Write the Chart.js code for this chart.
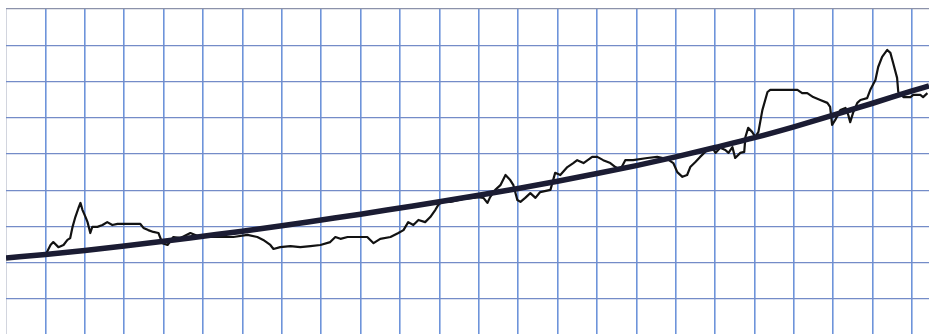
<!DOCTYPE html>
<html>
<head>
<meta charset="utf-8">
<script src="https://cdn.jsdelivr.net/npm/chart.js@4/dist/chart.umd.min.js"></script>
<style>
html,body{margin:0;padding:0;background:#fff;}
canvas{display:block;}
</style>
</head>
<body>
<canvas id="c" width="929" height="334"></canvas>
<script>
// Smooth trend curve (grid-cell units)
const trendX = [0,1,2,3,4,5,6,7,8,9,10,11,12,13,14,15,16,17,18,19,20,21,22,23,23.43];
const trendY = [1.13,1.23,1.34,1.46,1.59,1.73,1.87,2.02,2.18,2.34,2.51,2.68,2.86,3.05,3.25,3.46,3.68,3.92,4.18,4.45,4.75,5.07,5.40,5.74,5.88];

// Jagged series (grid-cell units)
const seriesX = [1.00,1.13,1.20,1.33,1.46,1.56,1.63,1.69,1.76,1.84,1.89,1.94,2.02,2.07,2.14,2.19,2.32,2.45,2.57,2.70,2.83,3.08,3.41,3.49,3.61,3.74,3.87,3.97,4.10,4.25,4.43,4.68,4.93,5.26,5.77,6.13,6.38,6.53,6.71,6.79,6.96,7.22,7.47,7.73,7.98,8.23,8.36,8.49,8.67,8.92,9.17,9.33,9.50,9.76,9.96,10.09,10.21,10.34,10.47,10.64,10.77,10.90,10.97,11.10,11.28,11.61,11.86,11.99,12.12,12.22,12.29,12.42,12.55,12.68,12.80,12.88,12.98,13.06,13.18,13.31,13.44,13.56,13.82,13.94,14.07,14.25,14.40,14.50,14.66,14.88,15.01,15.16,15.34,15.47,15.59,15.72,15.92,16.28,16.53,16.79,16.94,17.04,17.17,17.29,17.37,17.50,17.62,17.80,17.93,18.01,18.13,18.26,18.34,18.44,18.51,18.64,18.74,18.77,18.84,18.94,19.02,19.10,19.20,19.33,19.40,19.73,20.09,20.21,20.34,20.49,20.67,20.85,20.92,20.97,21.05,21.18,21.31,21.38,21.43,21.51,21.61,21.69,21.86,21.94,22.07,22.14,22.24,22.37,22.45,22.52,22.62,22.65,22.78,22.96,23.03,23.21,23.28,23.39];
const seriesY = [1.21,1.49,1.57,1.43,1.49,1.63,1.68,1.99,2.26,2.51,2.65,2.46,2.26,2.12,1.82,1.99,1.99,2.04,2.12,2.04,2.07,2.07,2.07,1.96,1.90,1.85,1.82,1.54,1.49,1.71,1.68,1.82,1.71,1.71,1.71,1.77,1.71,1.63,1.49,1.38,1.43,1.46,1.43,1.46,1.49,1.57,1.71,1.66,1.71,1.71,1.71,1.54,1.66,1.71,1.82,1.90,2.12,2.04,2.18,2.12,2.26,2.46,2.59,2.73,2.68,2.76,2.79,2.81,2.79,2.65,2.81,3.01,3.14,3.42,3.28,3.14,2.73,2.68,2.79,2.92,2.79,2.95,3.01,3.48,3.42,3.64,3.75,3.83,3.75,3.92,3.92,3.83,3.75,3.64,3.56,3.83,3.83,3.89,3.92,3.86,3.75,3.50,3.37,3.42,3.64,3.78,3.92,4.11,4.19,4.03,4.17,4.11,4.03,4.19,3.89,4.03,4.06,4.47,4.72,4.61,4.47,4.61,5.21,5.71,5.77,5.77,5.77,5.68,5.68,5.57,5.49,5.41,5.30,4.80,4.94,5.21,5.27,5.08,4.88,5.16,5.41,5.49,5.54,5.77,6.04,6.40,6.68,6.87,6.79,6.51,6.10,5.71,5.57,5.57,5.63,5.63,5.57,5.68];

const trendData = trendX.map((x, i) => ({x, y: trendY[i]}));
const seriesData = seriesX.map((x, i) => ({x, y: seriesY[i]}));

new Chart(document.getElementById('c'), {
  type: 'line',
  data: {
    datasets: [
      {
        data: trendData,
        borderColor: '#1b1c33',
        borderWidth: 5.5,
        pointRadius: 0,
        tension: 0.4,
        cubicInterpolationMode: 'monotone',
        borderCapStyle: 'butt'
      },
      {
        data: seriesData,
        borderColor: '#121212',
        borderWidth: 2.2,
        pointRadius: 0,
        tension: 0,
        borderJoinStyle: 'round'
      }
    ]
  },
  options: {
    responsive: false,
    animation: false,
    layout: { padding: { left: 6, top: 9, right: 0, bottom: 0 } },
    plugins: { legend: { display: false }, tooltip: { enabled: false } },
    scales: {
      x: {
        type: 'linear',
        min: 0,
        max: 23.43,
        border: { display: false },
        ticks: { display: false, stepSize: 1, includeBounds: false },
        grid: {
          drawTicks: false,
          lineWidth: ctx => ctx.tick && ctx.tick.value === 0 ? 1 : 1.6,
          color: ctx => ctx.tick && ctx.tick.value === 0 ? 'rgba(180,185,200,0.6)' : 'rgb(110,148,218)'
        }
      },
      y: {
        type: 'linear',
        min: -0.966,
        max: 8,
        border: { display: false },
        ticks: { display: false, stepSize: 1, includeBounds: false },
        grid: {
          drawTicks: false,
          lineWidth: 1.3,
          color: ctx => ctx.tick && ctx.tick.value === 8 ? 'rgb(140,146,170)' : 'rgb(116,140,200)'
        }
      }
    }
  }
});
</script>
</body>
</html>
